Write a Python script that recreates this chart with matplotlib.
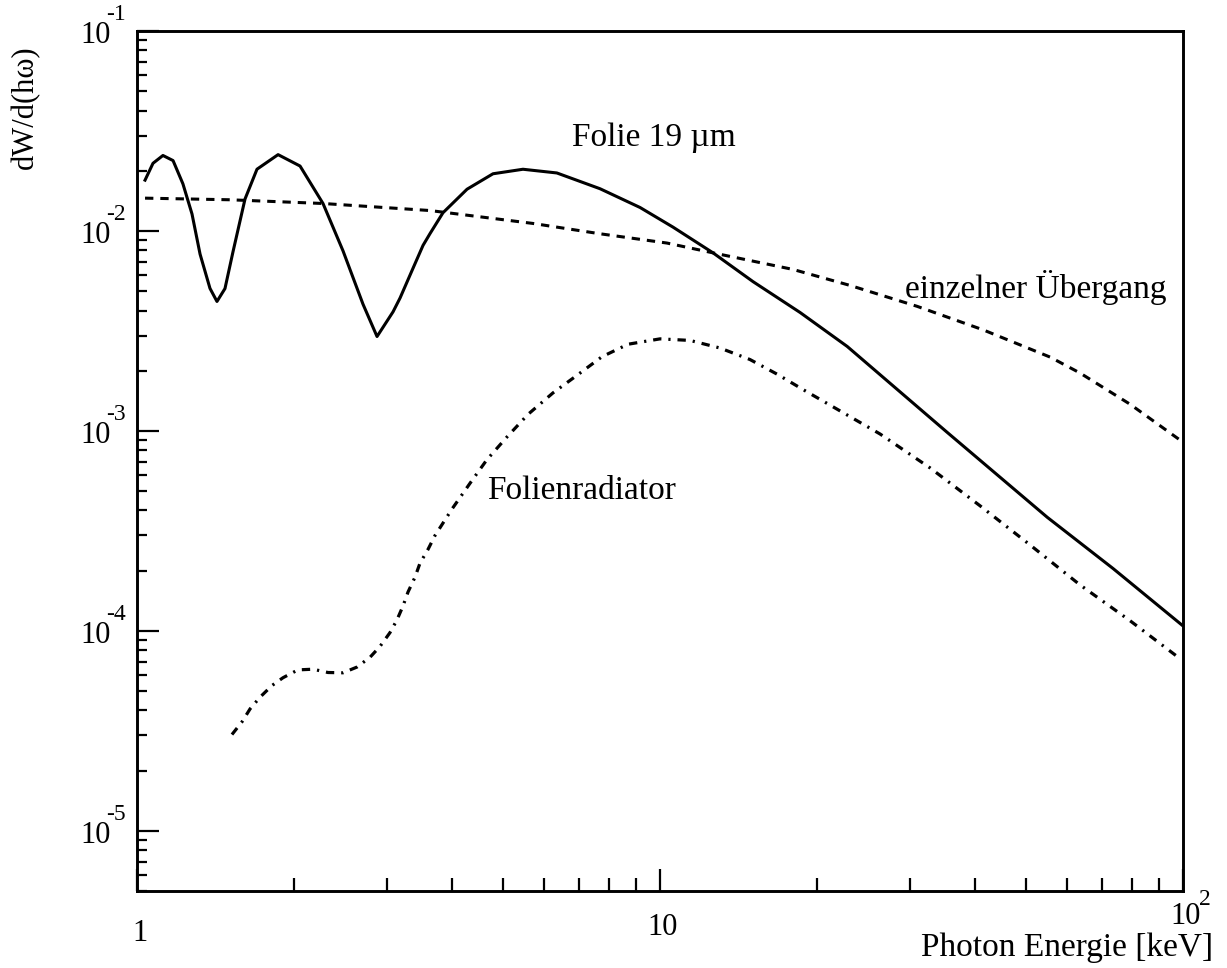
import matplotlib
matplotlib.use('Agg')
import numpy as np
import matplotlib.pyplot as plt
from matplotlib.ticker import LogLocator, FixedLocator, NullFormatter
from matplotlib.transforms import offset_copy

# ---------------- data ----------------
solid_x = [1.036, 1.073, 1.121, 1.172, 1.224, 1.274, 1.320, 1.379, 1.422, 1.473,
           1.526, 1.609, 1.696, 1.861, 2.050, 2.268, 2.477, 2.705, 2.877, 3.087,
           3.184, 3.372, 3.523, 3.633, 3.846, 4.276, 4.794, 5.47, 6.35, 7.68,
           9.16, 10.59, 12.63, 15.06, 18.53, 22.8, 35.4, 55.0, 73.5, 99.5]
solid_y = [0.01795, 0.0218, 0.02385, 0.02249, 0.01721, 0.01216, 0.00766, 0.00516, 0.00444, 0.00515,
           0.00787, 0.01445, 0.02036, 0.02408, 0.02112, 0.01372, 0.00795, 0.00430, 0.002965, 0.00394,
           0.00462, 0.00652, 0.00847, 0.0097, 0.01233, 0.01617, 0.01932, 0.02035, 0.0195, 0.01626,
           0.0131, 0.01045, 0.00777, 0.00558, 0.00391, 0.002645, 9.84e-4, 3.70e-4, 2.05e-4, 1.07e-4]

dashed_x = [1.036, 1.506, 2.268, 3.633, 5.72, 7.68, 10.31, 12.63, 17.96, 23.09,
            31.0, 41.5, 55.7, 63.5, 79.2, 98.7]
dashed_y = [0.01459, 0.01432, 0.01372, 0.01265, 0.0109, 0.00968, 0.0087, 0.00777, 0.00642, 0.00534,
            0.0042, 0.0032, 0.00234, 0.00195, 0.00136, 9.0e-4]

dashdot_x = [1.519, 1.588, 1.645, 1.719, 1.812, 1.902, 2.031, 2.170, 2.319, 2.477,
             2.634, 2.790, 2.915, 3.045, 3.142, 3.226, 3.298, 3.401, 3.476, 3.601,
             3.713, 4.003, 4.332, 4.669, 5.099, 5.593, 6.244, 6.939, 7.746, 8.687,
             10.0, 11.41, 13.02, 14.86, 16.74, 18.77, 21.14, 26.35, 32.84, 40.93,
             51.0, 63.5, 79.2, 98.7]
dashdot_y = [3.03e-5, 3.51e-5, 4.07e-5, 4.66e-5, 5.33e-5, 5.83e-5, 6.38e-5, 6.43e-5, 6.19e-5, 6.17e-5,
             6.59e-5, 7.38e-5, 8.36e-5, 9.79e-5, 1.136e-4, 1.333e-4, 1.565e-4, 1.857e-4, 2.18e-4, 2.555e-4,
             2.996e-4, 4.07e-4, 5.47e-4, 7.19e-4, 9.33e-4, 1.21e-3, 1.55e-3, 1.897e-3, 2.35e-3, 2.713e-3,
             2.886e-3, 2.835e-3, 2.598e-3, 2.275e-3, 1.923e-3, 1.61e-3, 1.346e-3, 9.65e-4, 6.53e-4, 4.22e-4,
             2.69e-4, 1.70e-4, 1.124e-4, 7.26e-5]

xtick_vals = [1, 10, 100]
xtick_bases = ['1', '10', '10']
xtick_exps = ['', '', '2']
ytick_vals = [1e-5, 1e-4, 1e-3, 1e-2, 1e-1]
ytick_bases = ['10', '10', '10', '10', '10']
ytick_exps = ['-5', '-4', '-3', '-2', '-1']

label_folie = 'Folie 19 µm'
label_einzel = 'einzelner Übergang'
label_radiator = 'Folienradiator'
xlabel = 'Photon Energie [keV]'
ylabel = 'dW/d(hω)'

# ---------------- style ----------------
plt.rcParams['font.family'] = ['Liberation Serif', 'DejaVu Serif']
plt.rcParams['lines.scale_dashes'] = False

W, H = 1227, 968
fig = plt.figure(figsize=(W / 100, H / 100), dpi=100)
ax = fig.add_axes([137 / W, (H - 891) / H, 1046 / W, 860 / H])
ax.set_xscale('log')
ax.set_yscale('log')
ax.set_xlim(1, 100)
ax.set_ylim(5e-6, 1e-1)

ax.plot(solid_x, solid_y, color='black', lw=2.2, solid_joinstyle='round')
ax.plot(dashed_x, dashed_y, color='black', lw=2.2, linestyle=(0, (6, 5)))
ax.plot(dashdot_x, dashdot_y, color='black', lw=2.3, linestyle=(0, (6, 5, 1.6, 5)))

for s in ax.spines.values():
    s.set_linewidth(2.1)

ax.xaxis.set_major_locator(FixedLocator(xtick_vals))
ax.yaxis.set_major_locator(FixedLocator(ytick_vals))
ax.xaxis.set_minor_locator(LogLocator(base=10, subs=np.arange(2, 10), numticks=30))
ax.yaxis.set_minor_locator(LogLocator(base=10, subs=np.arange(2, 10), numticks=30))
ax.xaxis.set_minor_formatter(NullFormatter())
ax.yaxis.set_minor_formatter(NullFormatter())
ax.tick_params(which='both', direction='in', top=False, right=False,
               labelbottom=False, labelleft=False, width=1.6)
ax.tick_params(which='major', length=16)
ax.tick_params(axis='x', which='minor', length=9.5)
ax.tick_params(axis='y', which='minor', length=7)

# y tick labels: "10" plus raised exponent
yb = ax.get_yaxis_transform()
for v, b, e in zip(ytick_vals, ytick_bases, ytick_exps):
    ax.text(0, v, b, transform=offset_copy(yb, fig=fig, x=-26, y=-12, units='dots'),
            ha='right', va='baseline', fontsize=22)
    ax.text(0, v, e, transform=offset_copy(yb, fig=fig, x=-31, y=11, units='dots'),
            ha='left', va='baseline', fontsize=17)

# x tick labels (baseline offsets follow the slightly tilted scan)
xb = ax.get_xaxis_transform()
x_dy = [-50, -44, -33]
for v, b, e, dy in zip(xtick_vals, xtick_bases, xtick_exps, x_dy):
    ax.text(v, 0, b, transform=offset_copy(xb, fig=fig, x=3, y=dy, units='dots'),
            ha='center', va='baseline', fontsize=22)
    if e:
        ax.text(v, 0, e, transform=offset_copy(xb, fig=fig, x=16, y=dy + 19, units='dots'),
                ha='left', va='baseline', fontsize=17)

# annotations
ax.text(6.79, 0.0265, label_folie, ha='left', va='baseline', fontsize=24)
ax.text(29.4, 0.00464, label_einzel, ha='left', va='baseline', fontsize=24)
ax.text(4.67, 4.54e-4, label_radiator, ha='left', va='baseline', fontsize=24)

fig.text(1213 / W, (H - 956) / H, xlabel, ha='right', va='baseline', fontsize=24)
fig.text(25 / W, (H - 107) / H, ylabel, ha='center', va='center', rotation=90, fontsize=22)

fig.savefig('out.png', dpi=100, facecolor='white')
